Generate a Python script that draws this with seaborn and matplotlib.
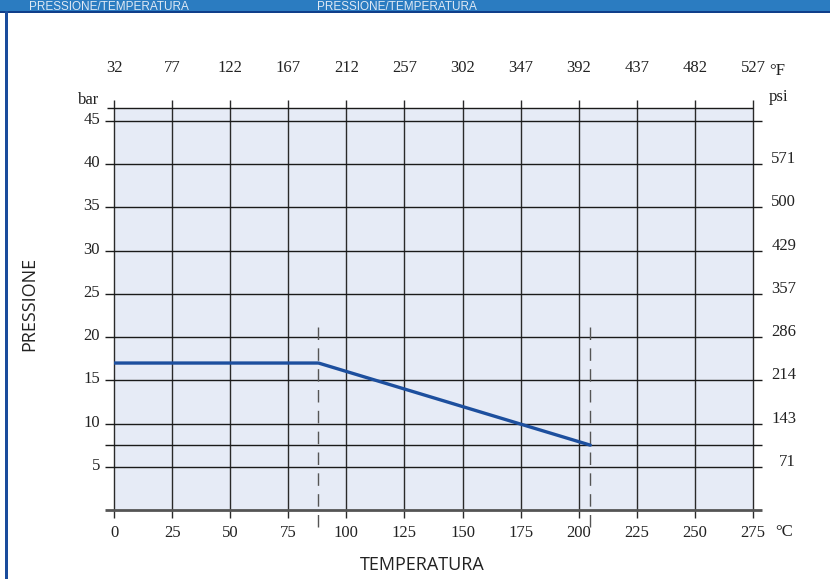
import matplotlib
matplotlib.use("Agg")
import matplotlib.pyplot as plt
import matplotlib.transforms as mtransforms
from matplotlib.patches import Rectangle
import seaborn as sns

# data
temp_c = [0, 88, 205]
pressure_bar = [17, 17, 7.5]
limit_temps = [88, 205]

celsius_ticks = [0, 25, 50, 75, 100, 125, 150, 175, 200, 225, 250, 275]
fahrenheit_labels = ["32", "77", "122", "167", "212", "257", "302", "347", "392", "437", "482", "527"]
bar_ticks = [5, 10, 15, 20, 25, 30, 35, 40, 45]
psi_ticks = [5, 10, 15, 20, 25, 30, 35, 40]
psi_labels = ["71", "143", "214", "286", "357", "429", "500", "571"]
header_titles = ["PRESSIONE/TEMPERATURA", "PRESSIONE/TEMPERATURA"]

sns.set_theme(style="white")
plt.rcParams["font.family"] = ["Liberation Serif", "DejaVu Serif"]

fig = plt.figure(figsize=(8.3, 5.79), dpi=100)
ax = fig.add_axes([114 / 830, 1 - 510 / 579, (753 - 114) / 830, (510 - 108) / 579])
ax.set_facecolor("#e6ebf6")
for s in ax.spines.values():
    s.set_visible(False)
ax.set_xlim(0, 275)
ax.set_ylim(0, 46.5)

# grid: vertical lines with overhang, horizontal lines with overhang
ax.vlines(celsius_ticks, -0.9, 47.4, colors="#2a2a2a", lw=1.0, clip_on=False, zorder=1)
ax.hlines(bar_ticks + [7.5], -3.9, 278.7, colors="#1a1a1a", lw=1.0, clip_on=False, zorder=1)
ax.hlines([46.5], -3.0, 275, colors="#1a1a1a", lw=1.0, clip_on=False, zorder=1)
ax.hlines([0], -3.9, 278.7, colors="#555555", lw=2.0, clip_on=False, zorder=2)

# dashed temperature limits
ax.vlines(limit_temps, -2.0, 21.8, colors="#555555", lw=1.0, linestyles=(0, (9, 6)),
          clip_on=False, zorder=2)

sns.lineplot(x=temp_c, y=pressure_bar, ax=ax, color="#1d4f9e", lw=2.4, zorder=3)

lab_font = dict(fontsize=12, color="#222222")

# bottom (°C) and left (bar) tick labels
ax.set_xticks(celsius_ticks)
ax.set_xticklabels([str(c) for c in celsius_ticks], **lab_font)
ax.tick_params(axis="x", length=0, pad=11)
ax.set_yticks(bar_ticks)
ax.set_yticklabels([str(b) for b in bar_ticks], **lab_font)
ax.tick_params(axis="y", length=0, pad=10)
for lbl in ax.get_yticklabels():
    lbl.set_transform(lbl.get_transform() + mtransforms.ScaledTranslation(0, 3 / 100, fig.dpi_scale_trans))

# top (°F) labels
top = ax.secondary_xaxis("top")
top.set_xticks(celsius_ticks)
top.set_xticklabels(fahrenheit_labels, **lab_font)
top.tick_params(length=0, pad=23)
for s in top.spines.values():
    s.set_visible(False)

# right (psi) labels
right = ax.secondary_yaxis("right")
right.set_yticks(psi_ticks)
right.set_yticklabels(psi_labels, ha="right", **lab_font)
right.tick_params(length=0, pad=31)
for s in right.spines.values():
    s.set_visible(False)
for lbl in right.get_yticklabels():
    lbl.set_transform(lbl.get_transform() + mtransforms.ScaledTranslation(0, 7 / 100, fig.dpi_scale_trans))

# unit labels
fig.text(99 / 830, 1 - 100 / 579, "bar", ha="right", va="center", **lab_font)
fig.text(769 / 830, 1 - 97 / 579, "psi", ha="left", va="center", **lab_font)
fig.text(769 / 830, 1 - 71 / 579, "°F", ha="left", va="center", **lab_font)
fig.text(775 / 830, 1 - 532 / 579, "°C", ha="left", va="center", **lab_font)

# axis titles
fig.text(29 / 830, 1 - 304 / 579, "PRESSIONE", rotation=90, ha="center", va="center",
         fontsize=13, color="#222222", family=["Open Sans", "DejaVu Sans"])
fig.text(422 / 830, 1 - 565 / 579, "TEMPERATURA", ha="center", va="center",
         fontsize=13, color="#222222", family=["Open Sans", "DejaVu Sans"])

# header band and frame
fig.patches.append(Rectangle((0, 1 - 11 / 579), 1, 11 / 579, transform=fig.transFigure,
                             facecolor="#2b7cc1", edgecolor="none", zorder=0))
fig.patches.append(Rectangle((0, 1 - 13 / 579), 1, 2.5 / 579, transform=fig.transFigure,
                             facecolor="#0f3f8a", edgecolor="none", zorder=1))
fig.patches.append(Rectangle((5 / 830, 0), 2.5 / 830, 1 - 11 / 579, transform=fig.transFigure,
                             facecolor="#1a4c9c", edgecolor="none", zorder=1))
for x0, title in zip([29, 317], header_titles):
    fig.text(x0 / 830, 1 - 9.5 / 579, title, ha="left", va="baseline",
             fontsize=8.5, color="#dfe9f5", family=["Liberation Sans", "DejaVu Sans"])

fig.savefig("out.png", dpi=100)
